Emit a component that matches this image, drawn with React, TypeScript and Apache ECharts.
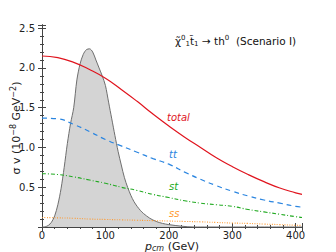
import React, { useEffect, useRef } from "react";
import * as echarts from "echarts";

const pGrid = [0, 25, 50, 75, 100, 125, 150, 175, 200, 225, 250, 275, 300, 325, 350, 375, 400, 410];
const totalVals = [2.15, 2.13, 2.07, 1.98, 1.87, 1.73, 1.58, 1.42, 1.27, 1.13, 1.0, 0.87, 0.76, 0.66, 0.57, 0.49, 0.43, 0.41];
const ttVals = [1.37, 1.36, 1.29, 1.2, 1.1, 1.02, 0.94, 0.86, 0.79, 0.69, 0.6, 0.52, 0.45, 0.39, 0.34, 0.3, 0.26, 0.25];
const stVals = [0.67, 0.66, 0.63, 0.59, 0.55, 0.5, 0.46, 0.41, 0.37, 0.33, 0.3, 0.28, 0.26, 0.22, 0.19, 0.16, 0.13, 0.12];
const ssVals = [0.12, 0.115, 0.11, 0.1, 0.095, 0.09, 0.085, 0.08, 0.075, 0.07, 0.065, 0.057, 0.05, 0.045, 0.037, 0.03, 0.022, 0.02];

const distP = [0, 5, 10, 15, 20, 25, 30, 35, 40, 45, 50, 55, 60, 65, 70, 75, 80, 85, 90, 95, 100, 105, 110, 115, 120, 125, 130, 135, 140, 145, 150, 155, 160, 170, 180, 190, 200, 220, 240, 410];
const distVals = [0, 0.003, 0.02, 0.06, 0.14, 0.28, 0.48, 0.75, 1.05, 1.3, 1.5, 1.85, 2.05, 2.17, 2.23, 2.24, 2.2, 2.1, 2.0, 1.9, 1.78, 1.57, 1.36, 1.15, 0.95, 0.78, 0.62, 0.5, 0.4, 0.32, 0.26, 0.21, 0.17, 0.11, 0.07, 0.045, 0.03, 0.01, 0, 0];

const xTicks = [0, 100, 200, 300, 400];
const yTicks = [0.5, 1.0, 1.5, 2.0, 2.5];

const pairs = (xs: number[], ys: number[]) => xs.map((x, i) => [x, ys[i]]);

export default function App() {
  const ref = useRef<HTMLDivElement>(null);
  useEffect(() => {
    if (!ref.current) return;
    const chart = echarts.init(ref.current, null, { renderer: "svg" });
    const font = "DejaVu Sans";
    const axisCommon = {
      type: "value" as const,
      axisLine: { show: true, lineStyle: { color: "#444", width: 1 } },
      splitLine: { show: false },
    };
    const xBase = {
      ...axisCommon,
      min: 0,
      max: 410,
      interval: 100,
      minorTick: { show: true, splitNumber: 5, length: 2, lineStyle: { color: "#444" } },
      axisTick: { show: true, inside: true, length: 4, lineStyle: { color: "#444" } },
    };
    const yBase = {
      ...axisCommon,
      min: 0,
      max: 2.54,
      interval: 0.5,
      minorTick: { show: true, splitNumber: 5, length: 2, lineStyle: { color: "#444" } },
      axisTick: { show: true, inside: true, length: 4, lineStyle: { color: "#444" } },
    };
    chart.setOption({
      animation: false,
      textStyle: { fontFamily: font },
      grid: { left: 42, right: 34, top: 25, bottom: 25, outerBoundsMode: "none", containLabel: false },
      xAxis: [
        {
          ...xBase,
          position: "bottom",
          axisLabel: {
            color: "#222",
            fontSize: 10,
            margin: 3,
            formatter: (v: number) => (xTicks.includes(v) ? String(v) : ""),
          },
          name: "{i|p}{s|cm} (GeV)",
          nameLocation: "middle",
          nameGap: 13,
          nameMoveOverlap: false,
          nameTextStyle: {
            color: "#222",
            fontSize: 11,
            fontFamily: font,
            rich: {
              i: { fontStyle: "italic", fontSize: 11, color: "#222", fontFamily: font },
              s: { fontStyle: "italic", fontSize: 8, color: "#222", verticalAlign: "bottom", padding: [4, 0, 0, 0], fontFamily: font },
            },
          },
        },
        { ...xBase, position: "top", axisLabel: { show: false } },
      ],
      yAxis: [
        {
          ...yBase,
          position: "left",
          axisTick: { show: false },
          minorTick: { show: false },
          axisLabel: {
            color: "#222",
            fontSize: 10,
            margin: 7,
            formatter: (v: number) => (yTicks.some((t) => Math.abs(t - v) < 1e-6) ? v.toFixed(1) : ""),
          },
        },
        { ...yBase, position: "right", axisLabel: { show: false } },
        { ...yBase, position: "left", axisLabel: { show: false } },
      ],
      series: [
        {
          type: "line",
          data: pairs(distP, distVals),
          smooth: 0.3,
          showSymbol: false,
          z: 1,
          lineStyle: { color: "#6e6e6e", width: 1 },
          areaStyle: { color: "#d4d4d4", opacity: 1 },
        },
        {
          type: "line",
          data: pairs(pGrid, totalVals),
          smooth: true,
          showSymbol: false,
          z: 3,
          lineStyle: { color: "#e0141e", width: 1.2 },
        },
        {
          type: "line",
          data: pairs(pGrid, ttVals),
          smooth: true,
          showSymbol: false,
          z: 3,
          lineStyle: { color: "#2a85e0", width: 1.2, type: [5, 4] },
        },
        {
          type: "line",
          data: pairs(pGrid, stVals),
          smooth: true,
          showSymbol: false,
          z: 3,
          lineStyle: { color: "#22aa22", width: 1.1, type: [4, 2, 1, 2] },
        },
        {
          type: "line",
          data: pairs(pGrid, ssVals),
          smooth: true,
          showSymbol: false,
          z: 3,
          lineStyle: { color: "#ff9a30", width: 1.1, type: [1, 1.5] },
        },
      ],
      graphic: [
        {
          type: "text",
          x: 16,
          y: 128,
          rotation: Math.PI / 2,
          style: {
            text: "{n|σ v (10}{sup|−8}{n| GeV}{sup|−2}{n|)}",
            align: "center",
            verticalAlign: "middle",
            rich: {
              n: { fontSize: 11, fontFamily: font, fill: "#222" },
              sup: { fontSize: 8, fontFamily: font, fill: "#222", verticalAlign: "top", padding: [0, 0, 6, 0] },
            },
          },
        },
        {
          type: "text",
          left: 175,
          top: 34,
          style: {
            text: "{n|χ̃}{sup|0}{sub|1}{n|t̃}{sub|1} {n|→ th}{sup|0}{n|  (Scenario I)}",
            rich: {
              n: { fontSize: 10.5, fontFamily: font, fill: "#111" },
              sup: { fontSize: 7, fontFamily: font, fill: "#111", verticalAlign: "top", padding: [0, 0, 6, 0] },
              sub: { fontSize: 7, fontFamily: font, fill: "#111", verticalAlign: "bottom", padding: [4, 0, 0, 0] },
            },
          },
        },
        { type: "text", left: 167, top: 112, style: { text: "total", fill: "#e0141e", fontSize: 10, fontStyle: "italic", fontFamily: font } },
        { type: "text", left: 169, top: 149, style: { text: "tt", fill: "#2a85e0", fontSize: 10, fontStyle: "italic", fontFamily: font } },
        { type: "text", left: 169, top: 181, style: { text: "st", fill: "#22aa22", fontSize: 10, fontStyle: "italic", fontFamily: font } },
        { type: "text", left: 169, top: 208, style: { text: "ss", fill: "#ff9a30", fontSize: 10, fontStyle: "italic", fontFamily: font } },
      ],
    });
    return () => chart.dispose();
  }, []);
  return <div ref={ref} style={{ width: 336, height: 252, position: "absolute", left: 0, top: 0 }} />;
}
